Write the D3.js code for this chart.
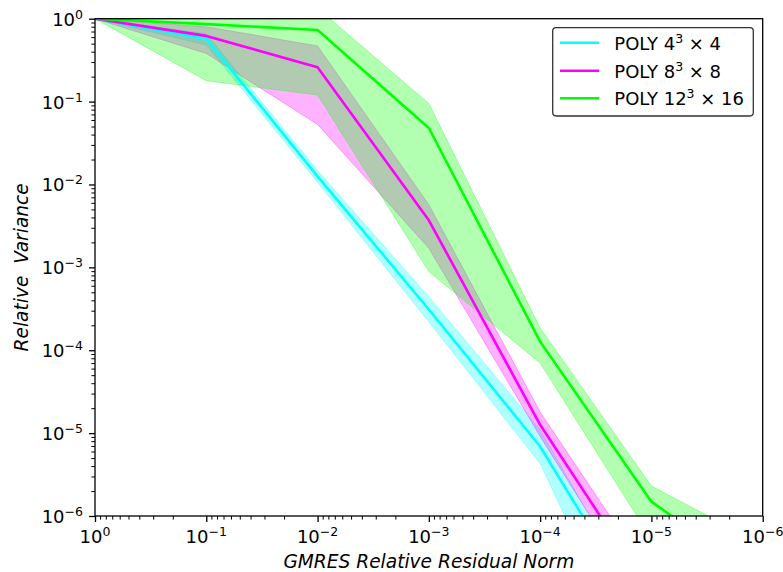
<!DOCTYPE html>
<html>
<head>
<meta charset="utf-8">
<script src="https://cdn.jsdelivr.net/npm/d3@7"></script>
<style>
  html, body { margin: 0; padding: 0; background: #fff; }
  svg { display: block; }
  text { font-family: "DejaVu Sans", sans-serif; fill: #000; }
</style>
</head>
<body>
<svg id="chart" width="783" height="572"></svg>
<script>
// GMRES relative residual norm at which the variance was measured
const residuals = [1, 1e-1, 1e-2, 1e-3, 1e-4, 1e-5, 1e-6];

// POLY 4^3 x 4
const poly4Mean  = [1, 0.57, 0.0125, 3.1e-4, 6.9e-6, 4.3e-8];
const poly4Lower = [1, 0.48, 0.0106, 2.2e-4, 4.3e-6, 6.0e-9];
const poly4Upper = [1, 0.66, 0.0147, 4.4e-4, 1.1e-5, 5.0e-8];

// POLY 8^3 x 8
const poly8Mean  = [1, 0.62, 0.26, 0.0037, 1.26e-5, 1.15e-7];
const poly8Lower = [1, 0.38, 0.053, 0.0017, 9.1e-6, 6.6e-8];
const poly8Upper = [1, 0.80, 0.47, 0.0057, 1.8e-5, 1.8e-7];

// POLY 12^3 x 16
const poly12Mean  = [1, 0.86, 0.73, 0.048, 1.27e-4, 1.49e-6, 1.66e-7];
const poly12Lower = [1, 0.179, 0.12, 8.9e-4, 7.0e-5, 5.3e-7, 5.0e-8];
const poly12Upper = [1, 1.0, 1.34, 0.095, 1.86e-4, 2.3e-6, 4.5e-7];

const legendBase = ["4", "8", "12"];
const legendTail = ["4", "8", "16"];
const seriesColors = ["#00ffff", "#ff00ff", "#00ff00"];

const xMajor = [1, 1e-1, 1e-2, 1e-3, 1e-4, 1e-5, 1e-6];
const yMajor = [1, 1e-1, 1e-2, 1e-3, 1e-4, 1e-5, 1e-6];
const tickExponents = ["0", "\u22121", "\u22122", "\u22123", "\u22124", "\u22125", "\u22126"];

const series = [
  { mean: poly4Mean,  lower: poly4Lower,  upper: poly4Upper },
  { mean: poly8Mean,  lower: poly8Lower,  upper: poly8Upper },
  { mean: poly12Mean, lower: poly12Lower, upper: poly12Upper }
];

const plot = { left: 95, right: 762.7, top: 18.7, bottom: 516 };
const tickFont = 18, supFont = 12.5, titleFont = 18.6;

const svg = d3.select("#chart");

const x = d3.scaleLog().domain([1, 1e-6]).range([plot.left, plot.right]);
const y = d3.scaleLog().domain([1e-6, 1]).range([plot.bottom, plot.top]);

// minor ticks: 2..9 within each decade
function minorTicks(lo, hi) {
  const out = [];
  for (let e = Math.log10(lo); e < Math.log10(hi); e++) {
    for (let k = 2; k <= 9; k++) out.push(k * Math.pow(10, e));
  }
  return out;
}

svg.append("defs").append("clipPath").attr("id", "plot-clip")
  .append("rect")
  .attr("x", plot.left).attr("y", plot.top)
  .attr("width", plot.right - plot.left).attr("height", plot.bottom - plot.top);

const body = svg.append("g").attr("clip-path", "url(#plot-clip)");

const area = d3.area()
  .x((d, i) => x(residuals[i]))
  .y0(d => y(d[0]))
  .y1(d => y(d[1]));

const line = d3.line()
  .x((d, i) => x(residuals[i]))
  .y(d => y(d));

// shaded spread of each configuration
series.forEach((s, si) => {
  const pts = s.lower.map((lo, i) => [lo, s.upper[i]]);
  body.append("path")
    .attr("d", area(pts))
    .attr("fill", seriesColors[si])
    .attr("fill-opacity", 0.3)
    .attr("stroke", seriesColors[si])
    .attr("stroke-opacity", 0.3)
    .attr("stroke-width", 1);
});

// mean curves on top
series.forEach((s, si) => {
  body.append("path")
    .attr("d", line(s.mean))
    .attr("fill", "none")
    .attr("stroke", seriesColors[si])
    .attr("stroke-width", 2.6)
    .attr("stroke-linejoin", "round");
});

// axes
const xAxisMajor = d3.axisBottom(x).tickValues(xMajor).tickSize(6).tickFormat("");
const xAxisMinor = d3.axisBottom(x).tickValues(minorTicks(1e-6, 1)).tickSize(3.6).tickFormat("");
const yAxisMajor = d3.axisLeft(y).tickValues(yMajor).tickSize(6).tickFormat("");
const yAxisMinor = d3.axisLeft(y).tickValues(minorTicks(1e-6, 1)).tickSize(3.6).tickFormat("");

function styleAxis(g, w) {
  g.select(".domain").remove();
  g.selectAll(".tick line").attr("stroke", "#000").attr("stroke-width", w);
}

svg.append("g").attr("transform", `translate(0,${plot.bottom})`).call(xAxisMinor).call(g => styleAxis(g, 1));
svg.append("g").attr("transform", `translate(0,${plot.bottom})`).call(xAxisMajor).call(g => styleAxis(g, 1.3));
svg.append("g").attr("transform", `translate(${plot.left},0)`).call(yAxisMinor).call(g => styleAxis(g, 1));
svg.append("g").attr("transform", `translate(${plot.left},0)`).call(yAxisMajor).call(g => styleAxis(g, 1.3));

// frame
svg.append("rect")
  .attr("x", plot.left).attr("y", plot.top)
  .attr("width", plot.right - plot.left).attr("height", plot.bottom - plot.top)
  .attr("fill", "none").attr("stroke", "#000").attr("stroke-width", 1.3);

// x tick labels
xMajor.forEach((v, i) => {
  const t = svg.append("text")
    .attr("x", x(v)).attr("y", 543)
    .attr("text-anchor", "middle")
    .style("font-size", tickFont + "px");
  t.append("tspan").text("10");
  t.append("tspan").attr("dy", -7).style("font-size", supFont + "px").text(tickExponents[i]);
});

// y tick labels
yMajor.forEach((v, i) => {
  const t = svg.append("text")
    .attr("x", 83).attr("y", y(v) + 7)
    .attr("text-anchor", "end")
    .style("font-size", tickFont + "px");
  t.append("tspan").text("10");
  t.append("tspan").attr("dy", -7).style("font-size", supFont + "px").text(tickExponents[i]);
});

// axis titles
svg.append("text")
  .attr("x", (plot.left + plot.right) / 2).attr("y", 567.5)
  .attr("text-anchor", "middle")
  .style("font-size", titleFont + "px").style("font-style", "italic")
  .text("GMRES Relative Residual Norm");

svg.append("text")
  .attr("transform", `translate(28,${(plot.top + plot.bottom) / 2}) rotate(-90)`)
  .attr("text-anchor", "middle")
  .style("font-size", titleFont + "px").style("font-style", "italic")
  .style("white-space", "pre")
  .text("Relative  Variance");

// legend
const legend = svg.append("g");
legend.append("rect")
  .attr("x", 552.7).attr("y", 27.7).attr("width", 200.6).attr("height", 88.3)
  .attr("rx", 3.4)
  .attr("fill", "#fff").attr("fill-opacity", 0.8)
  .attr("stroke", "#333").attr("stroke-width", 1.3);

const rowY = [42.7, 70.7, 98.3];
legendBase.forEach((b, i) => {
  legend.append("line")
    .attr("x1", 560).attr("x2", 599.3)
    .attr("y1", rowY[i]).attr("y2", rowY[i])
    .attr("stroke", seriesColors[i]).attr("stroke-width", 2.6);
  const t = legend.append("text")
    .attr("x", 614.3).attr("y", rowY[i] + 6.8)
    .style("font-size", tickFont + "px")
    .style("white-space", "pre");
  t.append("tspan").text("POLY " + b);
  t.append("tspan").attr("dy", -7).style("font-size", supFont + "px").text("3");
  t.append("tspan").attr("dy", 7).style("font-size", tickFont + "px").text(" \u00d7 " + legendTail[i]);
});
</script>
</body>
</html>
